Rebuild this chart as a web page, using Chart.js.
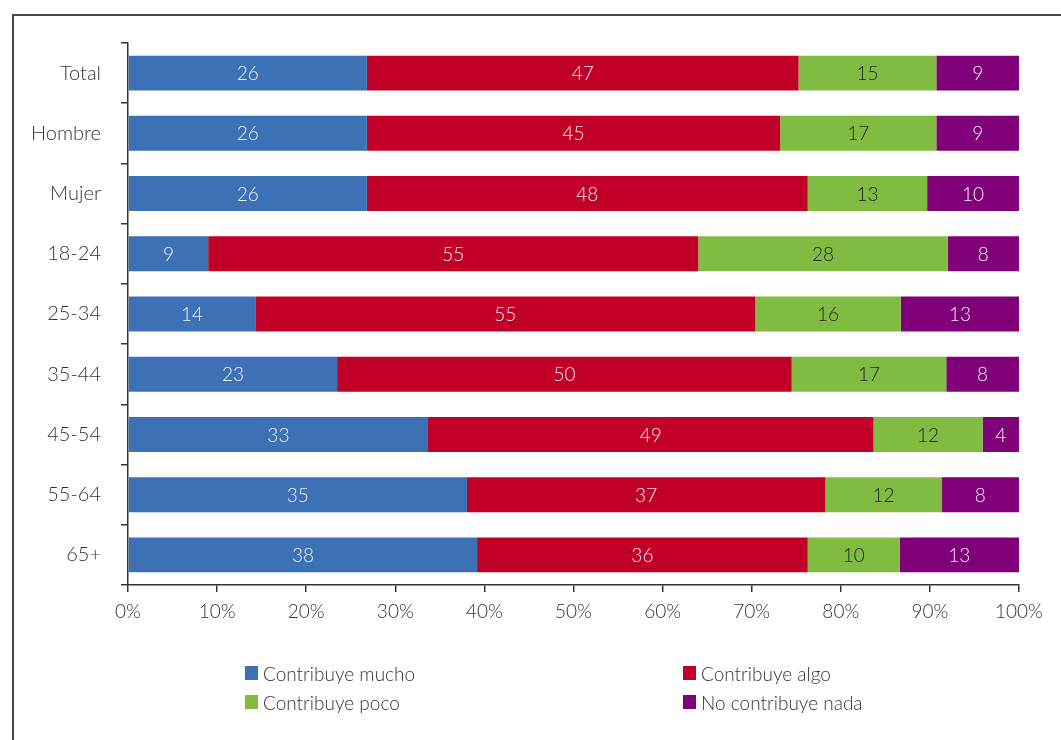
<!DOCTYPE html>
<html lang="es">
<head>
<meta charset="utf-8">
<title>Contribución por grupo</title>
<script src="https://cdn.jsdelivr.net/npm/chart.js@4.4.1/dist/chart.umd.min.js"></script>
<style>
  html, body { margin: 0; padding: 0; background: #fff; overflow: hidden; }
  #wrap { position: relative; width: 1061px; height: 740px; }
  #frame {
    position: absolute; left: 12px; top: 14px; width: 1100px; height: 800px;
    border: 2px solid #4a4a4a; box-sizing: border-box;
  }
  #chartContribucion { position: absolute; left: 0; top: 0; }
  #legend {
    position: absolute; left: 245px; top: 663px; width: 700px;
    display: grid; grid-template-columns: 438px 260px; row-gap: 9px;
    font-family: Lato, "Open Sans", sans-serif; font-weight: 300; font-size: 19px; color: #333;
  }
  #legend .item { display: flex; align-items: center; height: 20px; }
  #legend .box { width: 13px; height: 14px; margin-right: 5px; }
</style>
</head>
<body>
<div id="wrap">
  <div id="frame"></div>
  <canvas id="chartContribucion" width="1061" height="740"></canvas>
  <div id="legend"></div>
</div>
<script>
// Categorías (de arriba abajo)
const categorias = ['Total', 'Hombre', 'Mujer', '18-24', '25-34', '35-44', '45-54', '55-64', '65+'];

// Valores por serie (porcentaje de respuestas)
const mucho = [26, 26, 26, 9, 14, 23, 33, 35, 38];
const algo  = [47, 45, 48, 55, 55, 50, 49, 37, 36];
const poco  = [15, 17, 13, 28, 16, 17, 12, 12, 10];
const nada  = [9, 9, 10, 8, 13, 8, 4, 8, 13];

const series = ['Contribuye mucho', 'Contribuye algo', 'Contribuye poco', 'No contribuye nada'];
const colores = ['#3d71b5', '#c00027', '#80bc42', '#7f0079'];
const coloresTexto = ['#eef3fb', '#fbeef0', '#222222', '#f6eef6'];

const ticksX = [0, 10, 20, 30, 40, 50, 60, 70, 80, 90, 100];

const FONT = 'Lato, "Open Sans", sans-serif';

// Cada barra se normaliza al 100% de su fila
const valores = [mucho, algo, poco, nada];
const totales = categorias.map((_, i) => valores.reduce((acc, s) => acc + s[i], 0));

const datasets = valores.map((serie, k) => ({
  label: series[k],
  data: serie.map((v, i) => v / totales[i] * 100),
  raw: serie,
  backgroundColor: colores[k],
  borderWidth: 0,
  barPercentage: 0.58,
  categoryPercentage: 1
}));

// Plugin: escribe el valor dentro de cada segmento
const etiquetasPlugin = {
  id: 'etiquetas',
  afterDatasetsDraw(chart) {
    const ctx = chart.ctx;
    ctx.save();
    ctx.font = '300 19px ' + FONT;
    ctx.textAlign = 'center';
    ctx.textBaseline = 'middle';
    chart.data.datasets.forEach((ds, k) => {
      const meta = chart.getDatasetMeta(k);
      meta.data.forEach((bar, i) => {
        const cx = (bar.x + bar.base) / 2;
        ctx.fillStyle = coloresTexto[k];
        ctx.fillText(String(ds.raw[i]), cx, bar.y + 1);
      });
    });
    ctx.restore();
  }
};

const ctx = document.getElementById('chartContribucion').getContext('2d');
const chart = new Chart(ctx, {
  type: 'bar',
  data: { labels: categorias, datasets: datasets },
  options: {
    indexAxis: 'y',
    responsive: false,
    animation: false,
    layout: { padding: { top: 43, right: 42, left: 0, bottom: 0 } },
    plugins: {
      legend: { display: false },
      tooltip: { enabled: false }
    },
    scales: {
      x: {
        stacked: true,
        min: 0,
        max: 100,
        afterBuildTicks(scale) {
          scale.ticks = ticksX.map(v => ({ value: v }));
        },
        afterFit(scale) { scale.height = 155; },
        border: { color: '#333', width: 1.5 },
        grid: { drawOnChartArea: false, drawTicks: true, tickLength: 7, color: '#333', lineWidth: 1.5 },
        ticks: {
          padding: 8,
          color: '#333',
          font: { family: FONT, size: 19, weight: 300 },
          callback: v => v + '%'
        }
      },
      y: {
        stacked: true,
        afterFit(scale) { scale.width = 128; },
        border: { color: '#333', width: 1.5 },
        grid: { drawOnChartArea: false, drawTicks: true, tickLength: 7, color: '#333', lineWidth: 1.5, offset: true },
        ticks: {
          padding: 20,
          color: '#333',
          font: { family: FONT, size: 20, weight: 300 }
        }
      }
    }
  },
  plugins: [etiquetasPlugin]
});

// Leyenda en dos columnas
const legend = document.getElementById('legend');
series.forEach((nombre, k) => {
  const item = document.createElement('div');
  item.className = 'item';
  item.innerHTML = '<span class="box" style="background:' + colores[k] + '"></span>' + nombre;
  legend.appendChild(item);
});
</script>
</body>
</html>
